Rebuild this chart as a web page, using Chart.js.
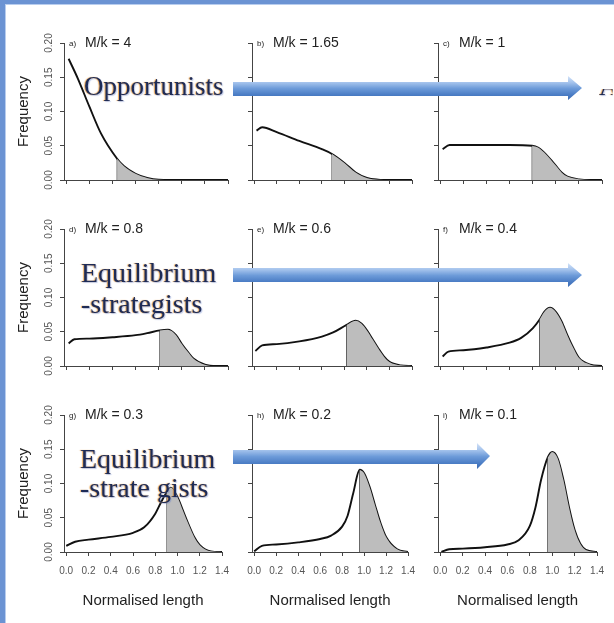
<!DOCTYPE html>
<html>
<head>
<meta charset="utf-8">
<script src="https://cdn.jsdelivr.net/npm/chart.js@4.4.0/dist/chart.umd.min.js"></script>
<style>
html, body { margin: 0; padding: 0; background: #fff; }
body { width: 614px; height: 623px; position: relative; overflow: hidden; }
.frame { position: absolute; left: 0; top: 0; width: 609px; height: 619px;
  border-left: 5px solid #6b93d3; border-top: 4px solid #6b93d3; box-shadow: inset 1px 1px 0 #b8cdee; }
.panel { position: absolute; z-index: 1; }
.arrow { position: absolute; z-index: 2;
  background: linear-gradient(#d4e3f8 0%, #a3c2ec 28%, #6d9bd9 52%, #4b7dc5 78%, #3b6ab1 100%); }
.note { position: absolute; z-index: 3; font-family: "Liberation Serif", "Times New Roman", serif;
  color: #1d2b57; white-space: pre;
  text-shadow: -1px 0 1px rgba(232,150,50,.8), 1px 1px 1px rgba(90,120,200,.4); }
</style>
</head>
<body>
<div class="frame"></div>

<div class="arrow" style="left:233px;top:76px;width:349px;height:24px;clip-path:polygon(0 6px,335px 6px,335px 0,349px 12px,335px 24px,335px 20px,0 20px);"></div>
<div class="arrow" style="left:233px;top:263px;width:349px;height:24px;clip-path:polygon(0 5px,335px 5px,335px 0,349px 12px,335px 24px,335px 19px,0 19px);"></div>
<div class="arrow" style="left:233px;top:443px;width:257px;height:26px;clip-path:polygon(0 7px,244px 7px,244px 0,257px 13px,244px 26px,244px 21px,0 21px);"></div>

<div class="note" style="left:84px;top:72px;font-size:27px;line-height:28px;">Opportunists</div>
<div class="note" style="left:599px;top:72px;font-size:27px;line-height:28px;clip-path:inset(17px 6px 0 0);">A</div>
<div class="note" style="left:81px;top:257px;font-size:28px;line-height:31px;">Equilibrium
-strategists</div>
<div class="note" style="left:80px;top:444px;font-size:28px;line-height:29px;">Equilibrium
-strate gists</div>

<script>
const xTicks = [0, 0.2, 0.4, 0.6, 0.8, 1.0, 1.2, 1.4];
const yTicks = [0, 0.05, 0.10, 0.15, 0.20];
const panelTags = ['a)', 'b)', 'c)', 'd)', 'e)', 'f)', 'g)', 'h)', 'i)'];
const mkRatios = ['4', '1.65', '1', '0.8', '0.6', '0.4', '0.3', '0.2', '0.1'];
const cutoffs = [0.44, 0.69, 0.795, 0.81, 0.82, 0.86, 0.905, 0.96, 0.96];

const lenA = [0.02, 0.1, 0.2, 0.3, 0.44, 0.5, 0.6, 0.7, 0.8, 0.9, 1.0, 1.2, 1.4];
const freqA = [0.177, 0.148, 0.107, 0.068, 0.031, 0.020, 0.009, 0.003, 0.0003, 0, 0, 0, 0];
const lenB = [0.02, 0.07, 0.2, 0.4, 0.6, 0.69, 0.8, 0.9, 1.0, 1.1, 1.2, 1.4];
const freqB = [0.072, 0.077, 0.070, 0.057, 0.045, 0.038, 0.025, 0.011, 0.003, 0.0005, 0, 0];
const lenC = [0.02, 0.08, 0.3, 0.6, 0.795, 0.85, 0.9, 0.95, 1.0, 1.05, 1.1, 1.2, 1.3, 1.4];
const freqC = [0.045, 0.051, 0.051, 0.051, 0.050, 0.047, 0.040, 0.031, 0.021, 0.011, 0.005, 0.001, 0, 0];
const lenD = [0.02, 0.07, 0.2, 0.4, 0.6, 0.7, 0.81, 0.88, 0.95, 1.0, 1.05, 1.1, 1.2, 1.3, 1.4];
const freqD = [0.033, 0.039, 0.040, 0.042, 0.045, 0.048, 0.052, 0.053, 0.045, 0.032, 0.021, 0.011, 0.002, 0, 0];
const lenE = [0.01, 0.07, 0.2, 0.4, 0.6, 0.7, 0.82, 0.9, 0.95, 1.0, 1.05, 1.1, 1.15, 1.2, 1.3, 1.4];
const freqE = [0.022, 0.030, 0.032, 0.036, 0.043, 0.049, 0.060, 0.066, 0.062, 0.052, 0.039, 0.026, 0.014, 0.006, 0.001, 0];
const lenF = [0.02, 0.07, 0.2, 0.4, 0.6, 0.7, 0.8, 0.86, 0.9, 0.95, 1.0, 1.05, 1.1, 1.15, 1.2, 1.3, 1.4];
const freqF = [0.014, 0.021, 0.023, 0.027, 0.034, 0.041, 0.055, 0.068, 0.079, 0.085, 0.079, 0.065, 0.045, 0.027, 0.012, 0.002, 0];
const lenG = [0.0, 0.08, 0.2, 0.4, 0.6, 0.7, 0.8, 0.85, 0.905, 0.94, 1.0, 1.05, 1.1, 1.15, 1.2, 1.3, 1.4];
const freqG = [0.009, 0.015, 0.018, 0.022, 0.028, 0.036, 0.056, 0.072, 0.088, 0.094, 0.080, 0.060, 0.040, 0.022, 0.010, 0.001, 0];
const lenH = [0.0, 0.07, 0.2, 0.4, 0.6, 0.7, 0.8, 0.85, 0.9, 0.96, 1.0, 1.05, 1.1, 1.15, 1.2, 1.3, 1.4];
const freqH = [0.001, 0.009, 0.011, 0.014, 0.019, 0.024, 0.037, 0.053, 0.085, 0.120, 0.115, 0.095, 0.068, 0.042, 0.022, 0.004, 0];
const lenI = [0.01, 0.08, 0.2, 0.4, 0.6, 0.7, 0.8, 0.85, 0.9, 0.96, 1.0, 1.05, 1.1, 1.15, 1.2, 1.25, 1.3, 1.4];
const freqI = [0.0, 0.004, 0.005, 0.007, 0.011, 0.017, 0.038, 0.065, 0.105, 0.138, 0.146, 0.136, 0.105, 0.065, 0.032, 0.012, 0.003, 0];

const lengths = [lenA, lenB, lenC, lenD, lenE, lenF, lenG, lenH, lenI];
const freqs = [freqA, freqB, freqC, freqD, freqE, freqF, freqG, freqH, freqI];

// panel placement
const colLeft = [8, 238, 424];
const colWidth = [230, 186, 189];
const colPadRight = [10, 12, 11];
const rowTop = [25, 211, 397];
const rowHeight = [169, 169, 215];

Chart.defaults.font.family = '"Liberation Sans", Arial, sans-serif';

function makePanel(i) {
    const r = Math.floor(i / 3), c = i % 3;
    const firstCol = c === 0, lastRow = r === 2;
    const canvas = document.createElement('canvas');
    canvas.width = colWidth[c];
    canvas.height = rowHeight[r];
    canvas.className = 'panel';
    canvas.style.left = colLeft[c] + 'px';
    canvas.style.top = rowTop[r] + 'px';
    document.body.appendChild(canvas);

    const pts = lengths[i].map((x, k) => ({ x: x, y: freqs[i][k] }));
    const shaded = pts.filter(p => p.x >= cutoffs[i]);
    const edge = [{ x: cutoffs[i], y: 0 }, { x: cutoffs[i], y: shaded[0].y }];

    const axisGrid = { drawOnChartArea: false, drawTicks: true, tickLength: 4, color: '#444' };

    new Chart(canvas, {
        type: 'line',
        data: {
            datasets: [
                { data: shaded, fill: 'origin', backgroundColor: '#bdbdbd', borderWidth: 0, pointRadius: 0, cubicInterpolationMode: 'monotone' },
                { data: edge, fill: false, borderColor: '#3a3a3a', borderWidth: 1, pointRadius: 0 },
                { data: pts, fill: false, borderColor: '#111', borderWidth: 1.9, pointRadius: 0, cubicInterpolationMode: 'monotone' }
            ]
        },
        options: {
            responsive: false,
            animation: false,
            events: [],
            layout: { padding: { top: 18, right: colPadRight[c], left: 0, bottom: 0 } },
            plugins: { legend: { display: false }, tooltip: { enabled: false } },
            scales: {
                x: {
                    type: 'linear', min: -0.02, max: 1.4,
                    afterBuildTicks: s => { s.ticks = xTicks.map(v => ({ value: v })); },
                    afterFit: s => { s.height = lastRow ? 60 : 14; },
                    grid: axisGrid,
                    border: { display: true, color: '#444', width: 1 },
                    ticks: { display: lastRow, padding: 9, autoSkip: false, maxRotation: 0, font: { size: 10 }, color: '#555',
                             callback: v => v.toFixed(1) },
                    title: { display: lastRow, text: 'Normalised length', font: { size: 15 }, color: '#222', padding: { top: 0, bottom: 2 } }
                },
                y: {
                    type: 'linear', min: 0, max: 0.2,
                    afterBuildTicks: s => { s.ticks = yTicks.map(v => ({ value: v })); },
                    afterFit: s => { s.width = firstCol ? 56 : 14; },
                    grid: axisGrid,
                    border: { display: true, color: '#444', width: 1 },
                    ticks: { display: firstCol, minRotation: 90, maxRotation: 90, crossAlign: 'center', padding: 1,
                             font: { size: 10 }, color: '#555', callback: v => v.toFixed(2) },
                    title: { display: firstCol, text: 'Frequency', font: { size: 15 }, color: '#222', padding: { top: 7, bottom: 0 } }
                }
            }
        },
        plugins: [{
            id: 'panelTag',
            afterDraw(chart) {
                const ctx = chart.ctx, a = chart.chartArea;
                ctx.save();
                ctx.fillStyle = '#222';
                ctx.font = '8px "Liberation Sans", Arial, sans-serif';
                ctx.fillText(panelTags[i], a.left + 5, a.top + 3);
                ctx.font = '14px "Liberation Sans", Arial, sans-serif';
                ctx.fillText('M/k = ' + mkRatios[i], a.left + 21, a.top + 4);
                ctx.restore();
            }
        }]
    });
}

for (let i = 0; i < 9; i++) makePanel(i);
</script>
</body>
</html>
